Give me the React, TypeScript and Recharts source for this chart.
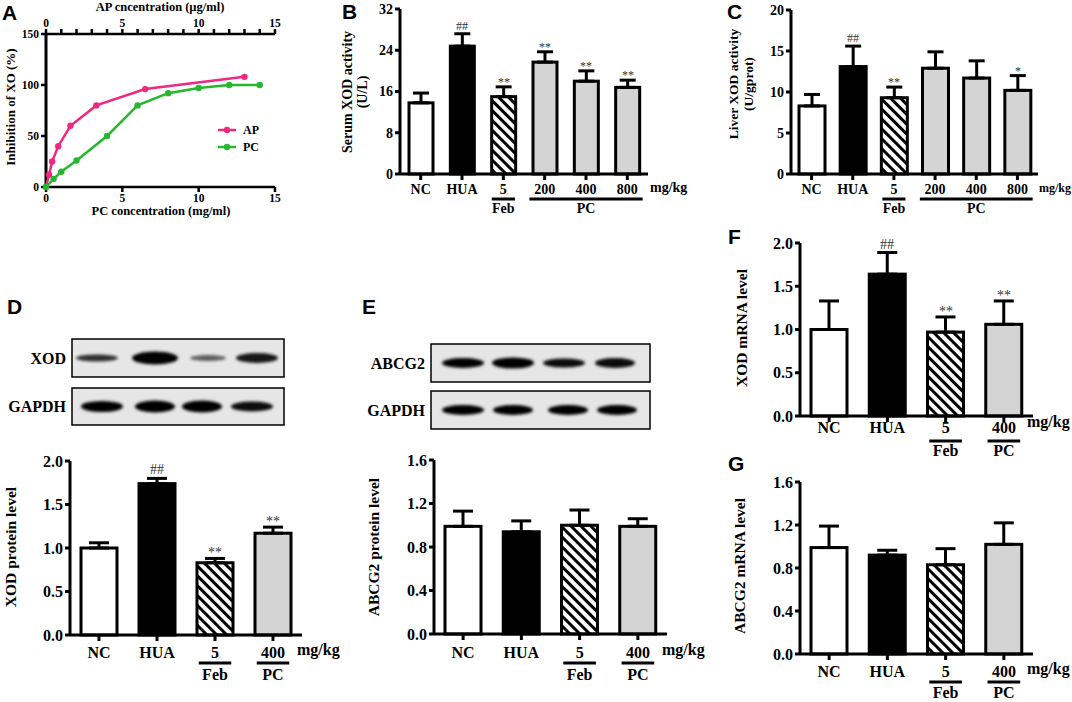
import React from "react";
import { BarChart, Bar, XAxis, YAxis, ErrorBar, ScatterChart, Scatter } from "recharts";

const SERIF = "'Liberation Serif', 'Times New Roman', serif";
const SANS = "'Liberation Sans', Arial, sans-serif";
const PINK = "#f0287f";
const GREEN = "#25b82e";

// ---- panel A: inhibition curves ----
const apConc = [0, 0.2, 0.4, 0.8, 1.6, 3.3, 6.5, 13];
const apInhibition = [0, 12, 25, 40, 60, 80, 96, 108];
const pcConc = [0, 0.5, 1, 2, 4, 6, 8, 10, 12, 14];
const pcInhibition = [0, 8, 15, 26, 50, 80, 92, 97, 100, 100];
const apAxisTicks = [0, 1, 2, 3, 4, 5, 6, 7, 8, 9, 10, 11, 12, 13, 14, 15];
const pcAxisTicks = [0, 5, 10, 15];
const inhibitionTicks = [0, 50, 100, 150];

// ---- panels B, C: six groups ----
const groups6 = ["NC", "HUA", "5", "200", "400", "800"];
const kinds6 = ["open", "solid", "hatch", "gray", "gray", "gray"];
const serumXod = [13.8, 24.8, 15.0, 21.7, 18.0, 16.8];
const serumXodErr = [1.9, 2.4, 1.9, 2.0, 2.0, 1.4];
const serumXodSig = ["", "##", "**", "**", "**", "**"];
const serumTicks = [0, 8, 16, 24, 32];
const liverXod = [8.3, 13.1, 9.3, 12.9, 11.7, 10.2];
const liverXodErr = [1.4, 2.5, 1.3, 2.0, 2.1, 1.8];
const liverXodSig = ["", "##", "**", "", "", "*"];
const liverTicks = [0, 5, 10, 15, 20];

// ---- panels D-G: four groups ----
const groups4 = ["NC", "HUA", "5", "400"];
const kinds4 = ["open", "solid", "hatch", "gray"];
const xodProtein = [1.0, 1.74, 0.83, 1.17];
const xodProteinErr = [0.06, 0.06, 0.05, 0.07];
const xodProteinSig = ["", "##", "**", "**"];
const abcg2Protein = [0.99, 0.94, 1.0, 0.99];
const abcg2ProteinErr = [0.14, 0.1, 0.14, 0.07];
const xodMrna = [1.0, 1.64, 0.97, 1.06];
const xodMrnaErr = [0.33, 0.25, 0.175, 0.27];
const xodMrnaSig = ["", "##", "**", "**"];
const abcg2Mrna = [0.99, 0.92, 0.83, 1.02];
const abcg2MrnaErr = [0.2, 0.045, 0.15, 0.2];
const ticks2 = [0, 0.5, 1, 1.5, 2];
const ticks16 = [0, 0.4, 0.8, 1.2, 1.6];

const FILLS: Record<string, string> = {
  open: "#ffffff",
  solid: "#000000",
  hatch: "url(#hatch)",
  gray: "#d4d4d4",
};

const AXIS = { stroke: "#000", strokeWidth: 3 };

interface Row {
  name: string;
  kind: string;
  value: number;
  err: number[];
  sig: string;
}

const rows = (names: string[], kinds: string[], values: number[], errs: number[], sig?: string[]): Row[] =>
  names.map((name, i) => ({ name, kind: kinds[i], value: values[i], err: [0, errs[i]], sig: sig ? sig[i] : "" }));

interface Group {
  label: string;
  start: number;
  end: number;
}
const groupsWide: Group[] = [
  { label: "Feb", start: 2, end: 2 },
  { label: "PC", start: 3, end: 5 },
];
const groupsNarrow: Group[] = [
  { label: "Feb", start: 2, end: 2 },
  { label: "PC", start: 3, end: 3 },
];

interface PanelCfg {
  left: number;
  top: number;
  width: number;
  height: number;
  mTop: number;
  mRight: number;
  yWidth: number;
  xHeight: number;
  ticks: number[];
  decimals: number;
  barSize: number;
  capHalf: number;
  font: number;
  sigFont: number;
  labelDy: number;
  lineDy: number;
  groupDy: number;
  unitFont: number;
  unitDx: number;
  unitDy: number;
}

function BarPanel({ cfg, data, groups }: { cfg: PanelCfg; data: Row[]; groups: Group[] }) {
  const n = data.length;
  const band = (cfg.width - cfg.yWidth - cfg.mRight) / n;
  const txt = { fontSize: cfg.font, fontWeight: 700, fill: "#000" };

  const renderTick = (props: any) => {
    const { x, y, payload } = props;
    const i: number = props.index ?? payload.index ?? 0;
    const out: React.ReactNode[] = [
      <text key="t" x={x} y={y + cfg.labelDy} textAnchor="middle" {...txt}>
        {payload.value}
      </text>,
    ];
    groups.forEach((g, gi) => {
      if (g.start !== i) return;
      const ext = g.end > g.start ? 0.37 : 0.28;
      const x1 = x - ext * band;
      const x2 = x + (g.end - g.start) * band + ext * band;
      out.push(<line key={"l" + gi} x1={x1} x2={x2} y1={y + cfg.lineDy} y2={y + cfg.lineDy} stroke="#000" strokeWidth={3} />);
      out.push(
        <text key={"g" + gi} x={(x1 + x2) / 2} y={y + cfg.groupDy} textAnchor="middle" {...txt}>
          {g.label}
        </text>
      );
    });
    if (i === n - 1) {
      out.push(
        <text key="u" x={x + band / 2 + cfg.unitDx} y={y + cfg.unitDy} textAnchor="start" {...txt} fontSize={cfg.unitFont}>
          mg/kg
        </text>
      );
    }
    return <g>{out}</g>;
  };

  const renderBar = (props: any) => {
    const { x, y, width, height, payload } = props;
    const scale = payload.value > 0 ? height / payload.value : 0;
    const capY = y - payload.err[1] * scale;
    const lift = payload.sig.startsWith("#") ? 4 : 1;
    return (
      <g>
        <rect x={x} y={y} width={width} height={height} fill={FILLS[payload.kind]} stroke="#000" strokeWidth={3} />
        {payload.sig ? (
          <text x={Math.round(x + width / 2)} y={Math.round(capY - lift)} textAnchor="middle" fontSize={cfg.sigFont} fill="#333">
            {payload.sig}
          </text>
        ) : null}
      </g>
    );
  };

  return (
    <div style={{ position: "absolute", left: cfg.left, top: cfg.top }}>
      <BarChart width={cfg.width} height={cfg.height} data={data} margin={{ top: cfg.mTop, right: cfg.mRight, bottom: 0, left: 0 }}>
        <XAxis dataKey="name" interval={0} height={cfg.xHeight} tickSize={6} tickMargin={2} axisLine={AXIS} tickLine={AXIS} tick={renderTick} />
        <YAxis
          width={cfg.yWidth}
          domain={[cfg.ticks[0], cfg.ticks[cfg.ticks.length - 1]]}
          ticks={cfg.ticks}
          interval={0}
          tickFormatter={(v: number) => v.toFixed(cfg.decimals)}
          tickSize={5}
          tickMargin={2}
          axisLine={AXIS}
          tickLine={AXIS}
          tick={txt}
        />
        <Bar dataKey="value" barSize={cfg.barSize} shape={renderBar} isAnimationActive={false}>
          <ErrorBar dataKey="err" width={cfg.capHalf} strokeWidth={3} stroke="#000" direction="y" />
        </Bar>
      </BarChart>
    </div>
  );
}

const series = [
  { name: "AP", color: PINK, axis: "ap", data: apConc.map((x, i) => ({ x, y: apInhibition[i] })) },
  { name: "PC", color: GREEN, axis: "pc", data: pcConc.map((x, i) => ({ x, y: pcInhibition[i] })) },
];

function InhibitionPanel() {
  const tick = { fontSize: 11.5, fontWeight: 700, fill: "#000" };
  const axis = { stroke: "#000", strokeWidth: 2.5 };
  return (
    <div style={{ position: "absolute", left: 0, top: 0 }}>
      <ScatterChart width={300} height={230} margin={{ top: 4, right: 25, bottom: 0, left: 0 }}>
        <XAxis xAxisId="pc" type="number" dataKey="x" orientation="bottom" domain={[0, 15]} ticks={pcAxisTicks} interval={0} height={43} tickSize={5} axisLine={axis} tickLine={axis} tick={tick} />
        <XAxis
          xAxisId="ap"
          type="number"
          dataKey="x"
          orientation="top"
          domain={[0, 15]}
          ticks={apAxisTicks}
          interval={0}
          height={30}
          tickSize={5}
          tickFormatter={(v: number) => (v % 5 === 0 ? String(v) : "")}
          axisLine={axis}
          tickLine={axis}
          tick={tick}
        />
        <YAxis type="number" dataKey="y" domain={[0, 150]} ticks={inhibitionTicks} interval={0} width={46} tickSize={5} axisLine={{ stroke: "#000", strokeWidth: 3 }} tickLine={axis} tick={tick} />
        {series.map((s) => (
          <Scatter
            key={s.name}
            name={s.name}
            data={s.data}
            xAxisId={s.axis}
            fill={s.color}
            line={{ stroke: s.color, strokeWidth: 2.5 }}
            shape={(p: any) => <circle cx={p.cx} cy={p.cy} r={3.2} fill={s.color} />}
            isAnimationActive={false}
          />
        ))}
      </ScatterChart>
    </div>
  );
}

const barPanels: { cfg: PanelCfg; data: Row[]; groups: Group[] }[] = [
  {
    cfg: { left: 330, top: 0, width: 380, height: 230, mTop: 9, mRight: 62, yWidth: 70, xHeight: 56, ticks: serumTicks, decimals: 0, barSize: 24, capHalf: 8, font: 14, sigFont: 12, labelDy: 12, lineDy: 17, groupDy: 31, unitFont: 14, unitDx: 2, unitDy: 10 },
    data: rows(groups6, kinds6, serumXod, serumXodErr, serumXodSig),
    groups: groupsWide,
  },
  {
    cfg: { left: 721, top: 0, width: 351, height: 230, mTop: 10, mRight: 34, yWidth: 70, xHeight: 56, ticks: liverTicks, decimals: 0, barSize: 26, capHalf: 8, font: 14, sigFont: 12, labelDy: 12, lineDy: 17, groupDy: 31, unitFont: 12, unitDx: 1, unitDy: 10 },
    data: rows(groups6, kinds6, liverXod, liverXodErr, liverXodSig),
    groups: groupsWide,
  },
  {
    cfg: { left: 0, top: 440, width: 360, height: 262, mTop: 21, mRight: 58, yWidth: 70, xHeight: 67, ticks: ticks2, decimals: 1, barSize: 36, capHalf: 10, font: 16, sigFont: 14, labelDy: 15, lineDy: 20, groupDy: 37, unitFont: 16, unitDx: -5, unitDy: 12 },
    data: rows(groups4, kinds4, xodProtein, xodProteinErr, xodProteinSig),
    groups: groupsNarrow,
  },
  {
    cfg: { left: 364, top: 440, width: 346, height: 262, mTop: 20, mRight: 43, yWidth: 70, xHeight: 68, ticks: ticks16, decimals: 1, barSize: 36, capHalf: 10, font: 16, sigFont: 14, labelDy: 16, lineDy: 21, groupDy: 38, unitFont: 16, unitDx: -5, unitDy: 13 },
    data: rows(groups4, kinds4, abcg2Protein, abcg2ProteinErr),
    groups: groupsNarrow,
  },
  {
    cfg: { left: 730, top: 230, width: 342, height: 230, mTop: 13, mRight: 39, yWidth: 70, xHeight: 44, ticks: ticks2, decimals: 1, barSize: 36, capHalf: 10, font: 16, sigFont: 14, labelDy: 9, lineDy: 17, groupDy: 32, unitFont: 16, unitDx: -6, unitDy: 3 },
    data: rows(groups4, kinds4, xodMrna, xodMrnaErr, xodMrnaSig),
    groups: groupsNarrow,
  },
  {
    cfg: { left: 730, top: 462, width: 342, height: 240, mTop: 20, mRight: 39, yWidth: 70, xHeight: 48, ticks: ticks16, decimals: 1, barSize: 36, capHalf: 10, font: 16, sigFont: 14, labelDy: 15, lineDy: 20, groupDy: 36, unitFont: 16, unitDx: -6, unitDy: 12 },
    data: rows(groups4, kinds4, abcg2Mrna, abcg2MrnaErr),
    groups: groupsNarrow,
  },
];

const panelLetters = [
  { t: "A", x: 2, y: 20 },
  { t: "B", x: 342, y: 19 },
  { t: "C", x: 727, y: 19 },
  { t: "D", x: 7, y: 314 },
  { t: "E", x: 362, y: 314 },
  { t: "F", x: 728, y: 244 },
  { t: "G", x: 728, y: 471 },
];

const yTitles = [
  { lines: ["Inhibition of XO (%)"], x: 10, y: 107, size: 13 },
  { lines: ["Serum XOD activity", "(U/L)"], x: 347, y: 92, size: 14 },
  { lines: ["Liver XOD activity", "(U/gprot)"], x: 733, y: 84, size: 13.5 },
  { lines: ["XOD protein level"], x: 10, y: 547, size: 15.5 },
  { lines: ["ABCG2 protein level"], x: 373, y: 547, size: 15.5 },
  { lines: ["XOD mRNA level"], x: 741, y: 328, size: 15.5 },
  { lines: ["ABCG2 mRNA level"], x: 739, y: 566, size: 15.5 },
];

// western blot strips (decorative images)
const blots = [
  { label: "XOD", x: 72, y: 339, w: 212, h: 38, lanes: [25, 83, 136, 185], bw: [42, 46, 36, 42], bh: [7, 13, 6, 10], dark: [0.8, 1, 0.6, 0.9] },
  { label: "GAPDH", x: 72, y: 388, w: 212, h: 37, lanes: [30, 83, 130, 180], bw: [42, 40, 40, 42], bh: [11, 12, 12, 10], dark: [1, 1, 1, 0.95] },
  { label: "ABCG2", x: 431, y: 344, w: 219, h: 38, lanes: [32, 82, 133, 184], bw: [42, 42, 42, 40], bh: [10, 11, 9, 10], dark: [1, 1, 0.95, 0.95] },
  { label: "GAPDH", x: 431, y: 391, w: 219, h: 38, lanes: [32, 82, 137, 186], bw: [42, 40, 40, 40], bh: [10, 10, 10, 10], dark: [1, 1, 1, 1] },
];

function Overlay() {
  return (
    <svg width={1072} height={702} style={{ position: "absolute", left: 0, top: 0, pointerEvents: "none" }}>
      {panelLetters.map((p) => (
        <text key={p.t} x={p.x} y={p.y} fontFamily={SANS} fontWeight={700} fontSize={21} fill="#000">
          {p.t}
        </text>
      ))}
      {yTitles.map((t, i) => (
        <g key={i} transform={`translate(${t.x},${t.y}) rotate(-90)`}>
          {t.lines.map((l, j) => (
            <text key={j} x={0} y={j * 15} textAnchor="middle" dominantBaseline="central" fontSize={t.size} fontWeight={700} fill="#000">
              {l}
            </text>
          ))}
        </g>
      ))}
      <text x={160} y={11} textAnchor="middle" fontSize={12.5} fontWeight={700}>
        AP cncentration (µg/ml)
      </text>
      <text x={161} y={215} textAnchor="middle" fontSize={12.5} fontWeight={700}>
        PC concentration (mg/ml)
      </text>
      {series.map((s, i) => (
        <g key={s.name}>
          <line x1={218} x2={236} y1={130 + i * 17} y2={130 + i * 17} stroke={s.color} strokeWidth={2.5} />
          <circle cx={227} cy={130 + i * 17} r={3.2} fill={s.color} />
          <text x={243} y={134 + i * 17} fontSize={12} fontWeight={700}>
            {s.name}
          </text>
        </g>
      ))}
      {blots.map((b, i) => (
        <g key={i}>
          <text x={b.x - 6} y={b.y + b.h / 2} textAnchor="end" dominantBaseline="central" fontSize={16} fontWeight={700}>
            {b.label}
          </text>
          <rect x={b.x} y={b.y} width={b.w} height={b.h} fill="#e6e6e6" stroke="#000" strokeWidth={1.5} />
          {b.lanes.map((cx, k) => (
            <ellipse
              key={k}
              cx={b.x + cx}
              cy={b.y + b.h / 2}
              rx={b.bw[k] / 2}
              ry={b.bh[k] / 2}
              fill={`rgba(0,0,0,${b.dark[k]})`}
              filter="url(#soft)"
            />
          ))}
        </g>
      ))}
    </svg>
  );
}

export default function App() {
  return (
    <div style={{ position: "absolute", left: 0, top: 0, width: 1072, height: 702, background: "#fff", fontFamily: SERIF, overflow: "hidden" }}>
      <svg width={0} height={0} style={{ position: "absolute" }}>
        <defs>
          <pattern id="hatch" patternUnits="userSpaceOnUse" width={7} height={7} patternTransform="rotate(-45)">
            <rect width={7} height={7} fill="#fff" />
            <rect width={3} height={7} fill="#000" />
          </pattern>
          <filter id="soft" x="-30%" y="-100%" width="160%" height="300%">
            <feGaussianBlur stdDeviation={1.6} />
          </filter>
        </defs>
      </svg>
      <InhibitionPanel />
      {barPanels.map((p, i) => (
        <BarPanel key={i} cfg={p.cfg} data={p.data} groups={p.groups} />
      ))}
      <Overlay />
    </div>
  );
}
